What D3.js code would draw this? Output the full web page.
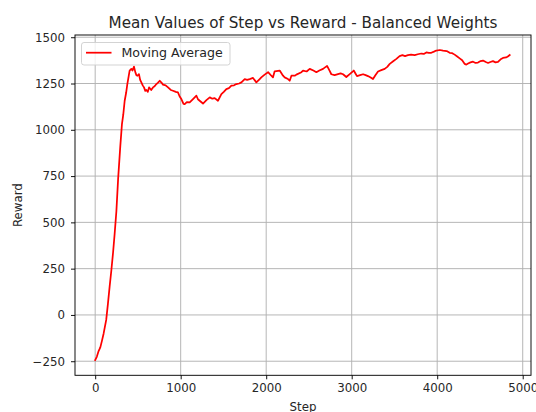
<!DOCTYPE html>
<html>
<head>
<meta charset="utf-8">
<script src="https://cdn.jsdelivr.net/npm/d3@7"></script>
<style>
  html, body { margin: 0; padding: 0; background: #fff; }
  svg { display: block; font-family: "DejaVu Sans", sans-serif; }
</style>
</head>
<body>
<svg id="chart" width="536" height="412"></svg>
<script>
const title = "Mean Values of Step vs Reward - Balanced Weights";
const xLabel = "Step";
const yLabel = "Reward";
const seriesName = "Moving Average";

const steps = [0,20,40,60,79,99,129,149,169,189,209,228,248,268,294,313,328,345,362,376,392,403,423,437,454,470,482,494,512,526,540,556,571,586,599,616,630,655,676,695,716,735,755,775,793,824,852,884,910,943,968,988,1008,1033,1047,1072,1105,1144,1184,1202,1222,1261,1301,1340,1370,1398,1436,1476,1504,1534,1564,1593,1624,1651,1683,1710,1749,1777,1807,1846,1885,1924,1943,1982,2022,2060,2079,2099,2158,2197,2216,2255,2275,2295,2334,2353,2412,2431,2473,2509,2552,2587,2622,2665,2712,2741,2762,2800,2840,2870,2899,2937,2977,3024,3049,3062,3098,3133,3163,3190,3222,3249,3277,3308,3346,3386,3416,3445,3485,3523,3560,3593,3624,3658,3694,3737,3773,3814,3843,3873,3902,3931,3962,3990,4032,4068,4111,4146,4176,4204,4234,4263,4292,4322,4341,4361,4389,4419,4449,4477,4508,4536,4568,4595,4622,4652,4682,4711,4742,4769,4806,4826,4848];
const rewards = [-244,-225,-195,-175,-140,-100,-27,60,153,240,336,440,560,732,913,1030,1080,1157,1200,1247,1290,1320,1329,1320,1341,1310,1295,1292,1301,1270,1256,1240,1229,1210,1215,1205,1229,1215,1229,1235,1247,1255,1265,1255,1244,1240,1229,1215,1211,1205,1202,1180,1166,1140,1139,1150,1148,1166,1184,1165,1157,1142,1160,1175,1168,1171,1157,1193,1205,1220,1225,1238,1240,1247,1250,1256,1274,1270,1274,1280,1256,1274,1283,1298,1311,1292,1283,1316,1320,1292,1283,1274,1265,1292,1292,1298,1311,1320,1315,1329,1320,1311,1320,1329,1345,1320,1300,1295,1301,1305,1300,1285,1301,1320,1300,1290,1295,1300,1295,1290,1282,1274,1295,1315,1322,1329,1340,1356,1370,1383,1398,1403,1398,1403,1406,1403,1408,1412,1410,1418,1415,1416,1422,1428,1431,1428,1425,1416,1414,1406,1396,1386,1376,1356,1352,1358,1364,1368,1361,1363,1371,1374,1366,1361,1366,1371,1364,1367,1381,1388,1391,1396,1404];

const xTicks = [0, 1000, 2000, 3000, 4000, 5000];
const yTicks = [-250, 0, 250, 500, 750, 1000, 1250, 1500];

const svg = d3.select("#chart");
const W = 536, H = 412;
const L = 75, R = 531, T = 35, B = 375.3;

svg.append("rect").attr("width", W).attr("height", H).attr("fill", "#fff");

const x = d3.scaleLinear().domain([-236, 5097]).range([L, R]);
const y = d3.scaleLinear().domain([-326, 1512]).range([B, T]);

// grid
const grid = svg.append("g");
grid.selectAll(".gx").data(xTicks).enter().append("line")
  .attr("x1", d => x(d)).attr("x2", d => x(d))
  .attr("y1", T).attr("y2", B)
  .attr("stroke", "#b0b0b0").attr("stroke-width", 0.93);
grid.selectAll(".gy").data(yTicks).enter().append("line")
  .attr("x1", L).attr("x2", R)
  .attr("y1", d => y(d)).attr("y2", d => y(d))
  .attr("stroke", "#b0b0b0").attr("stroke-width", 0.93);

// line
const pts = steps.map((s, i) => [s, rewards[i]]);
const line = d3.line().x(d => x(d[0])).y(d => y(d[1]));
svg.append("path").datum(pts)
  .attr("d", line)
  .attr("fill", "none")
  .attr("stroke", "#ff0000")
  .attr("stroke-width", 1.75)
  .attr("stroke-linejoin", "round")
  .attr("stroke-linecap", "square");

// axes
const xAxis = d3.axisBottom(x).tickValues(xTicks).tickSize(4).tickPadding(4)
  .tickFormat(d3.format("d"));
const yAxis = d3.axisLeft(y).tickValues(yTicks).tickSize(4).tickPadding(6)
  .tickFormat(d => d < 0 ? "\u2212" + Math.abs(d) : String(d));

const gx = svg.append("g").attr("transform", `translate(0,${B})`).call(xAxis);
const gy = svg.append("g").attr("transform", `translate(${L},0)`).call(yAxis);
[gx, gy].forEach(g => {
  g.select(".domain").remove();
  g.selectAll("line").attr("stroke", "#000").attr("stroke-width", 0.93);
  g.selectAll("text").attr("fill", "#262626").style("font-size", "11.8px")
    .style("font-family", "'DejaVu Sans', sans-serif");
});

// frame
svg.append("rect").attr("x", L).attr("y", T).attr("width", R - L).attr("height", B - T)
  .attr("fill", "none").attr("stroke", "#000").attr("stroke-width", 0.93);

// title
svg.append("text").attr("x", (L + R) / 2).attr("y", 28)
  .attr("text-anchor", "middle").attr("fill", "#262626")
  .style("font-size", "15.2px").text(title);

// axis labels
svg.append("text").attr("x", (L + R) / 2).attr("y", 410.5)
  .attr("text-anchor", "middle").attr("fill", "#262626")
  .style("font-size", "11.8px").text(xLabel);
svg.append("text").attr("transform", `translate(22,${(T + B) / 2}) rotate(-90)`)
  .attr("text-anchor", "middle").attr("fill", "#262626")
  .style("font-size", "11.8px").text(yLabel);

// legend
const lg = svg.append("g");
lg.append("rect").attr("x", 81.5).attr("y", 42.5).attr("width", 148.5).attr("height", 22.5)
  .attr("rx", 2.5).attr("fill", "#fff").attr("fill-opacity", 0.8)
  .attr("stroke", "#d0d0d0").attr("stroke-width", 0.93);
lg.append("line").attr("x1", 86).attr("x2", 111.5).attr("y1", 52.7).attr("y2", 52.7)
  .attr("stroke", "#ff0000").attr("stroke-width", 1.75);
lg.append("text").attr("x", 121.5).attr("y", 57.3).attr("fill", "#262626")
  .style("font-size", "12.6px").text(seriesName);
</script>
</body>
</html>
